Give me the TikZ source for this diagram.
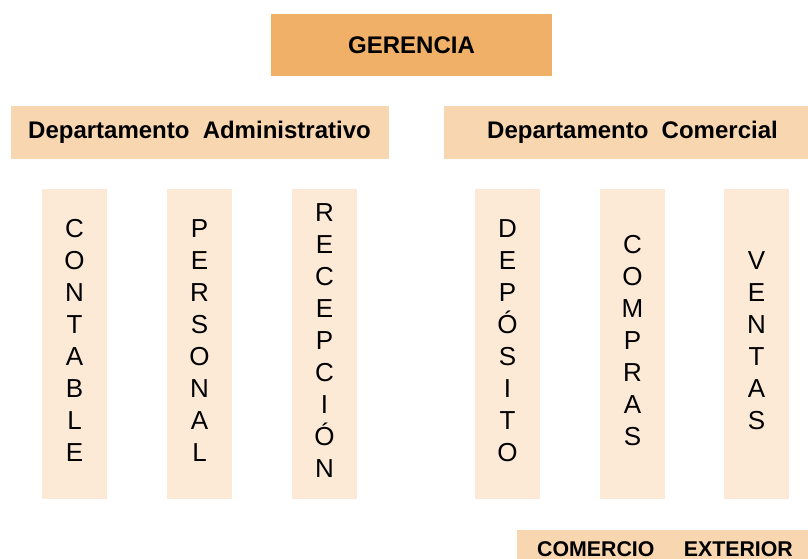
\documentclass[tikz,border=0pt]{standalone}
\usepackage{fontspec}
\setmainfont{Liberation Sans}
\usetikzlibrary{positioning}
\definecolor{gerenciaColor}{RGB}{240,176,103}
\definecolor{deptoColor}{RGB}{248,214,176}
\definecolor{areaColor}{RGB}{252,234,215}
\tikzset{
	every node/.style={inner sep=0pt},
	jefe/.style={fill=gerenciaColor, minimum width=210.75pt, minimum height=46.5pt, font=\bfseries\fontsize{18}{21}\selectfont},
	depto/.style={fill=deptoColor, minimum width=283.5pt, minimum height=39.75pt, font=\bfseries\fontsize{18}{21}\selectfont},
	area/.style={fill=areaColor, minimum width=48.75pt, minimum height=232.5pt, align=center, text depth=5pt, font=\fontsize{19.5}{24}\selectfont},
	externo/.style={fill=deptoColor, minimum width=222pt, minimum height=30pt, font=\bfseries\fontsize{16}{19}\selectfont},
}

\begin{document}
\begin{tikzpicture}
			\useasboundingbox (0,0) rectangle (606pt,-419.25pt);
			\clip (0,0) rectangle (606pt,-419.25pt);
			\node[jefe] (GERENCIA) at (308.625pt,-33.75pt) {GERENCIA};
			\node[depto, below=21.75pt of GERENCIA, xshift=-159pt] (ADMIN) {Departamento\hspace{0.55em}Administrativo};
			\node[depto, below=21.75pt of GERENCIA, xshift=165.75pt] (COMERCIAL) {Departamento\hspace{0.55em}Comercial};
			\node[area, below=22.5pt of ADMIN, xshift=-93.75pt] (contable) {C\\O\\N\\T\\A\\B\\L\\E};
			\node[area, below=22.5pt of ADMIN] (personal) {P\\E\\R\\S\\O\\N\\A\\L};
			\node[area, below=22.5pt of ADMIN, xshift=93.75pt] (recepcion) {R\\E\\C\\E\\P\\C\\I\\Ó\\N};
			\node[area, below=22.5pt of COMERCIAL, xshift=-93.75pt] (deposito) {D\\E\\P\\Ó\\S\\I\\T\\O};
			\node[area, below=22.5pt of COMERCIAL] (compras) {C\\O\\M\\P\\R\\A\\S};
			\node[area, below=22.5pt of COMERCIAL, xshift=93pt] (ventas) {V\\E\\N\\T\\A\\S};
			\node[externo, below=22.5pt of compras, xshift=24.375pt] (exterior) {COMERCIO\hspace{22pt}EXTERIOR};
		\end{tikzpicture}
\end{document}
